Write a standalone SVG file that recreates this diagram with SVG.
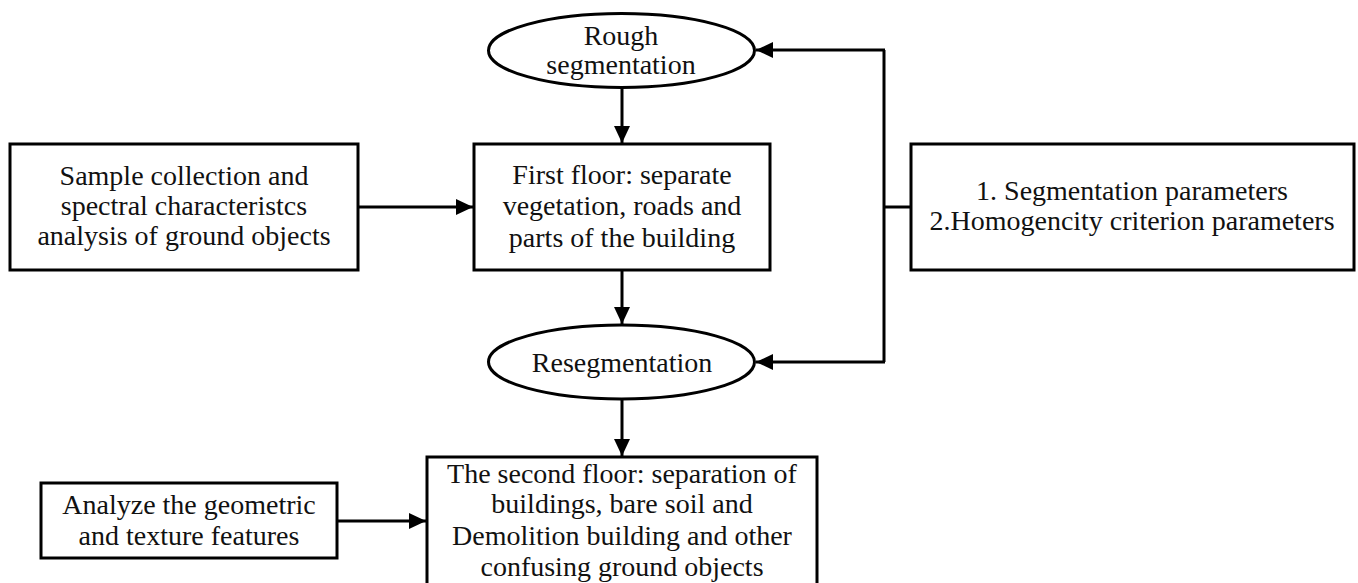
<svg xmlns="http://www.w3.org/2000/svg" width="1358" height="583" viewBox="0 0 1358 583">
<style>
.box{fill:#fff;stroke:#000;stroke-width:3}
.con{fill:none;stroke:#000;stroke-width:3}
.t{font-family:'Liberation Serif','DejaVu Serif',serif;font-size:28px;fill:#111;text-anchor:middle}
</style>
<defs>
<marker id="arr" markerUnits="userSpaceOnUse" markerWidth="18" markerHeight="18" refX="17" refY="8" orient="auto">
<path d="M0,0 L17,8 L0,16 Z" fill="#000"/>
</marker>
</defs>
<rect width="1358" height="583" fill="#fff"/>
<g id="connectors">
<line class="con" x1="622" y1="88" x2="622" y2="143" marker-end="url(#arr)"/>
<line class="con" x1="358" y1="207" x2="473" y2="207" marker-end="url(#arr)"/>
<line class="con" x1="622" y1="270" x2="622" y2="324" marker-end="url(#arr)"/>
<line class="con" x1="622" y1="399" x2="622" y2="456" marker-end="url(#arr)"/>
<line class="con" x1="337" y1="521" x2="426" y2="521" marker-end="url(#arr)"/>
<polyline class="con" points="911,207 884,207"/>
<polyline class="con" points="884,362 884,50"/>
<line class="con" x1="885" y1="50" x2="756" y2="50" marker-end="url(#arr)"/>
<line class="con" x1="885" y1="362" x2="756" y2="362" marker-end="url(#arr)"/>
</g>
<g id="rough">
<ellipse class="box" cx="621.5" cy="50.5" rx="133" ry="37"/>
<text class="t" x="621" y="45">Rough</text>
<text class="t" x="621" y="74">segmentation</text>
</g>
<g id="sample">
<rect class="box" x="10" y="144" width="348" height="126"/>
<text class="t" x="184" y="185">Sample collection and</text>
<text class="t" x="184" y="215">spectral characteristcs</text>
<text class="t" x="184" y="245">analysis of ground objects</text>
</g>
<g id="first">
<rect class="box" x="474" y="144" width="296" height="126"/>
<text class="t" x="622" y="184">First floor: separate</text>
<text class="t" x="622" y="215">vegetation, roads and</text>
<text class="t" x="622" y="247">parts of the building</text>
</g>
<g id="params">
<rect class="box" x="911" y="144" width="443" height="126"/>
<text class="t" x="1132" y="200">1. Segmentation parameters</text>
<text class="t" x="1132" y="230">2.Homogencity criterion parameters</text>
</g>
<g id="reseg">
<ellipse class="box" cx="621.5" cy="362" rx="133" ry="37"/>
<text class="t" x="622" y="372">Resegmentation</text>
</g>
<g id="analyze">
<rect class="box" x="41" y="483" width="296" height="75"/>
<text class="t" x="189" y="514">Analyze the geometric</text>
<text class="t" x="189" y="545">and texture features</text>
</g>
<g id="second">
<rect class="box" x="427" y="457" width="390" height="140"/>
<text class="t" x="622" y="483">The second floor: separation of</text>
<text class="t" x="622" y="513">buildings, bare soil and</text>
<text class="t" x="622" y="545">Demolition building and other</text>
<text class="t" x="622" y="576">confusing ground objects</text>
</g>
</svg>
